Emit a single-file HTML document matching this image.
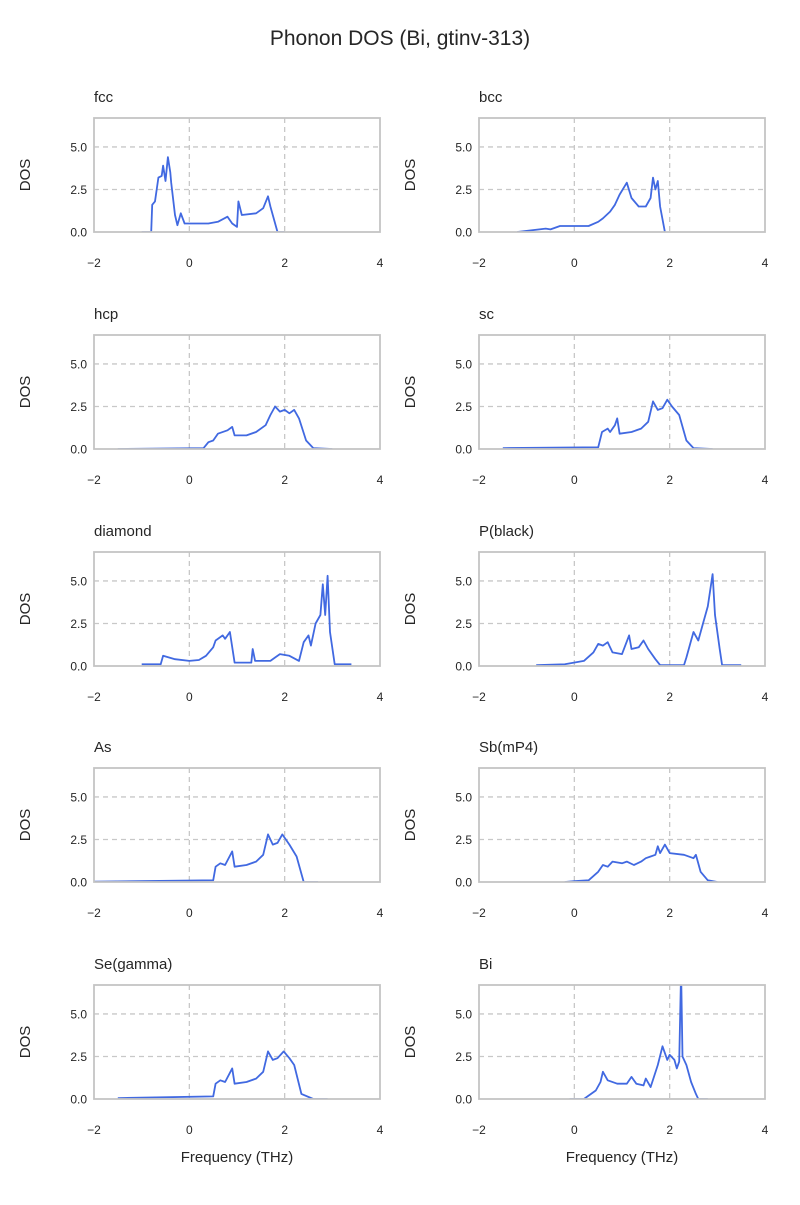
<!DOCTYPE html>
<html><head><meta charset="utf-8"><style>
body{margin:0;background:#fff;}
svg text{font-family:"Liberation Sans","DejaVu Sans",sans-serif;fill:#262626;}
</style></head><body>
<svg id="fig" width="800" height="1200" viewBox="0 0 800 1200" xmlns="http://www.w3.org/2000/svg">
<text x="400" y="45" text-anchor="middle" font-size="21">Phonon DOS (Bi, gtinv-313)</text>
</svg>
<script>
const panelNames = ["fcc","bcc","hcp","sc","diamond","P(black)","As","Sb(mP4)","Se(gamma)","Bi"];
const xTicks = [-2,0,2,4];
const yTicks = [0,2.5,5];
const yTickLabels = ["0.0","2.5","5.0"];
const fccDos = [[-1.0,0],[-0.8,0],[-0.78,1.6],[-0.72,1.8],[-0.65,3.2],[-0.58,3.3],[-0.55,3.9],[-0.5,3.0],[-0.45,4.4],[-0.4,3.5],[-0.38,2.9],[-0.3,1.0],[-0.25,0.4],[-0.18,1.1],[-0.1,0.5],[0.2,0.5],[0.4,0.5],[0.6,0.6],[0.8,0.9],[0.9,0.5],[1.0,0.3],[1.03,1.8],[1.1,1.0],[1.4,1.1],[1.55,1.4],[1.65,2.1],[1.7,1.5],[1.85,0],[2.0,0]];
const bccDos = [[-1.2,0],[-0.6,0.2],[-0.5,0.15],[-0.3,0.35],[0.3,0.35],[0.5,0.6],[0.6,0.8],[0.75,1.2],[0.85,1.6],[0.95,2.2],[1.1,2.9],[1.2,2.0],[1.35,1.5],[1.5,1.5],[1.6,2.0],[1.65,3.2],[1.7,2.5],[1.75,3.0],[1.8,1.5],[1.9,0]];
const hcpDos = [[-1.5,0],[0.3,0.05],[0.4,0.4],[0.5,0.5],[0.6,0.9],[0.8,1.1],[0.9,1.3],[0.95,0.8],[1.2,0.8],[1.4,1.0],[1.6,1.4],[1.7,2.0],[1.8,2.5],[1.9,2.2],[2.0,2.3],[2.1,2.1],[2.2,2.3],[2.3,1.8],[2.45,0.5],[2.6,0.05],[3.0,0]];
const scDos = [[-1.5,0.05],[0.5,0.1],[0.58,1.0],[0.7,1.2],[0.75,1.0],[0.85,1.4],[0.9,1.8],[0.95,0.9],[1.2,1.0],[1.4,1.2],[1.55,1.6],[1.65,2.8],[1.75,2.3],[1.85,2.4],[1.95,2.9],[2.05,2.5],[2.2,2.0],[2.35,0.5],[2.5,0.05],[2.9,0]];
const diamondDos = [[-1.0,0.1],[-0.6,0.1],[-0.55,0.6],[-0.3,0.4],[0,0.3],[0.2,0.35],[0.35,0.6],[0.5,1.1],[0.55,1.5],[0.7,1.8],[0.75,1.6],[0.85,2.0],[0.95,0.2],[1.3,0.2],[1.33,1.0],[1.38,0.3],[1.7,0.3],[1.8,0.5],[1.9,0.7],[2.1,0.6],[2.3,0.3],[2.4,1.4],[2.5,1.8],[2.55,1.2],[2.65,2.5],[2.75,3.0],[2.8,4.8],[2.85,3.0],[2.9,5.3],[2.95,2.0],[3.05,0.1],[3.4,0.1]];
const pBlackDos = [[-0.8,0.05],[-0.2,0.1],[0.2,0.3],[0.4,0.8],[0.5,1.3],[0.6,1.2],[0.7,1.4],[0.8,0.8],[1.0,0.7],[1.15,1.8],[1.2,1.0],[1.35,1.1],[1.45,1.5],[1.55,1.0],[1.7,0.4],[1.8,0.05],[2.3,0.05],[2.35,0.5],[2.45,1.5],[2.5,2.0],[2.6,1.5],[2.7,2.5],[2.8,3.5],[2.9,5.4],[2.95,3.0],[3.05,1.0],[3.1,0.05],[3.5,0.05]];
const asDos = [[-2,0.02],[0.5,0.1],[0.55,0.9],[0.65,1.1],[0.75,1.0],[0.9,1.8],[0.95,0.9],[1.2,1.0],[1.4,1.2],[1.55,1.6],[1.65,2.8],[1.75,2.2],[1.85,2.3],[1.95,2.8],[2.1,2.2],[2.25,1.5],[2.4,0],[2.7,0]];
const sbDos = [[-0.2,0],[0,0.05],[0.3,0.1],[0.5,0.6],[0.6,1.0],[0.7,0.9],[0.8,1.2],[1.0,1.1],[1.1,1.2],[1.25,1.0],[1.4,1.2],[1.5,1.4],[1.6,1.5],[1.7,1.6],[1.75,2.1],[1.8,1.7],[1.9,2.2],[2.0,1.7],[2.3,1.6],[2.5,1.4],[2.55,1.6],[2.65,0.6],[2.8,0.1],[3.0,0]];
const seDos = [[-1.5,0.05],[0.5,0.15],[0.55,0.9],[0.65,1.1],[0.75,1.0],[0.9,1.8],[0.95,0.9],[1.2,1.0],[1.4,1.2],[1.55,1.6],[1.65,2.8],[1.75,2.3],[1.85,2.4],[1.98,2.8],[2.1,2.4],[2.2,2.0],[2.35,0.3],[2.6,0],[2.9,0]];
const biDos = [[-0.1,0],[0.2,0],[0.3,0.2],[0.45,0.5],[0.55,1.0],[0.6,1.6],[0.7,1.1],[0.9,0.9],[1.1,0.9],[1.2,1.3],[1.3,0.9],[1.45,0.8],[1.5,1.2],[1.6,0.7],[1.75,2.0],[1.85,3.1],[1.95,2.3],[2.0,2.6],[2.1,2.3],[2.15,1.8],[2.2,2.2],[2.24,7.5],[2.27,2.5],[2.35,2.0],[2.45,1.0],[2.55,0.3],[2.6,0],[2.8,0]];
const allDos = [fccDos,bccDos,hcpDos,scDos,diamondDos,pBlackDos,asDos,sbDos,seDos,biDos];

const NS="http://www.w3.org/2000/svg";
const svg=document.getElementById('fig');
const colX=[94,479], W=286, H=114, rowY=[118,335,552,768,985];
const xMin=-2,xMax=4,yMin=0,yMax=6.7;
function mk(t,a){const e=document.createElementNS(NS,t);for(const k in a)e.setAttribute(k,a[k]);return e;}
panelNames.forEach((name,i)=>{
  const x0=colX[i%2], y0=rowY[Math.floor(i/2)];
  const sx=v=>x0+(v-xMin)/(xMax-xMin)*W;
  const sy=v=>y0+H-(v-yMin)/(yMax-yMin)*H;
  const g=mk('g',{});
  
  
  svg.appendChild(g);
  const cid='clip'+i;
  const cp=mk('clipPath',{id:cid}); cp.appendChild(mk('rect',{x:x0,y:y0,width:W,height:H})); g.appendChild(cp);
  [0,2].forEach(v=>{const l=mk('line',{x1:sx(v),x2:sx(v),y1:y0,y2:y0+H,stroke:'#c8c8c8','stroke-width':1.3,'stroke-dasharray':'5,4'});
    g.appendChild(l);});
  [2.5,5].forEach(v=>{const l=mk('line',{x1:x0,x2:x0+W,y1:sy(v),y2:sy(v),stroke:'#c8c8c8','stroke-width':1.3,'stroke-dasharray':'5,4'});
    g.appendChild(l);});
  const d=allDos[i].map((p,j)=>(j?'L':'M')+sx(p[0]).toFixed(1)+','+sy(p[1]).toFixed(1)).join('');
  const path=mk('path',{d:d,fill:'none',stroke:'#4169e1','stroke-width':1.8,'stroke-linejoin':'round','clip-path':'url(#'+cid+')'});
  
  
  g.appendChild(path);
  const fr=mk('rect',{x:x0,y:y0,width:W,height:H,fill:'none',stroke:'#c4c4c4','stroke-width':1.8});
  g.appendChild(fr);
  xTicks.forEach(v=>{const t=mk('text',{x:sx(v),y:y0+H+35,'text-anchor':'middle','font-size':12});t.textContent=v<0?'\u2212'+(-v):String(v);
    g.appendChild(t);});
  yTicks.forEach((v,k)=>{const t=mk('text',{x:x0-7,y:sy(v)+4.5,'text-anchor':'end','font-size':12});t.textContent=yTickLabels[k];
    g.appendChild(t);});
  const tt=mk('text',{x:x0,y:y0-16,'font-size':15});tt.textContent=name;
  g.appendChild(tt);
  const yl=mk('text',{x:0,y:0,'font-size':15,'text-anchor':'middle',transform:'translate('+(x0-64)+','+(y0+H/2)+') rotate(-90)'});yl.textContent='DOS';
  g.appendChild(yl);
  if(Math.floor(i/2)===4){const xl=mk('text',{x:x0+W/2,y:y0+H+63,'font-size':15,'text-anchor':'middle'});xl.textContent='Frequency (THz)';
    g.appendChild(xl);}
});
</script>
</body></html>
